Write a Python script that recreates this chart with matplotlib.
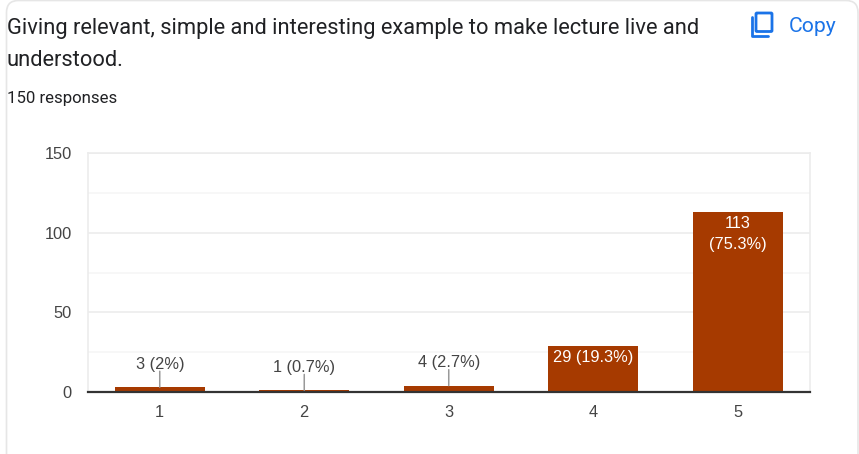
import matplotlib
matplotlib.use('Agg')
import matplotlib.pyplot as plt
from matplotlib.patches import FancyBboxPatch

W, H = 859, 454

categories = ['1', '2', '3', '4', '5']
counts = [3, 1, 4, 29, 113]
percents = ['2%', '0.7%', '2.7%', '19.3%', '75.3%']
y_ticks = [0, 50, 100, 150]
y_minor = [25, 75, 125]

title_lines = ['Giving relevant, simple and interesting example to make lecture live and', 'understood.']
subtitle = '150 responses'

bar_color = '#a63a00'
grid_color = '#ececec'
minor_color = '#f6f6f6'
axis_color = '#333333'
tick_color = '#444444'
label_color = '#444444'
callout_color = '#999999'
blue = '#1a73e8'
card_color = '#e6e6e6'

plt.rcParams['font.family'] = ['Liberation Sans', 'DejaVu Sans']

fig = plt.figure(figsize=(W / 100, H / 100), dpi=100, facecolor='white')


def px_text(x, y, s, **kw):
    fig.text(x / W, 1 - y / H, s, **kw)


# page card behind everything
bg = fig.add_axes([0, 0, 1, 1], zorder=0)
bg.set_xlim(0, W)
bg.set_ylim(H, 0)
bg.axis('off')
bg.add_patch(FancyBboxPatch((6.5, 0.5), 851.5, 500, boxstyle='round,pad=0,rounding_size=12',
                            fc='white', ec=card_color, lw=1.2))

# copy icon
bg.add_patch(FancyBboxPatch((756, 13), 16, 18.5, boxstyle='round,pad=0,rounding_size=1',
                            fc='none', ec=blue, lw=2.0))
bg.plot([751.5, 751.5, 768], [17, 36, 36], color=blue, lw=2.0, solid_capstyle='round', solid_joinstyle='round')

ax = fig.add_axes([87.5 / W, 1 - 392 / H, 722.5 / W, (392 - 153) / H], zorder=1)
ax.patch.set_alpha(0)
x = list(range(len(categories)))
ax.bar(x, counts, width=0.622, color=bar_color, zorder=3)
ax.set_xlim(-0.5, 4.5)
ax.set_ylim(0, 150)

for v in y_ticks[1:]:
    ax.axhline(v, color=grid_color, lw=1.2, zorder=1)
for v in y_minor:
    ax.axhline(v, color=minor_color, lw=1.2, zorder=1)

for s in ['top', 'right', 'left']:
    ax.spines[s].set_color(grid_color)
    ax.spines[s].set_linewidth(1.2)
ax.spines['bottom'].set_color(axis_color)
ax.spines['bottom'].set_linewidth(1.6)
ax.spines['bottom'].set_zorder(5)

ax.set_xticks(x, categories)
ax.set_yticks(y_ticks)
ax.tick_params(length=0, labelsize=11.8, labelcolor=tick_color)
ax.tick_params(axis='x', pad=9.5)
ax.tick_params(axis='y', pad=11.5)

# small bars get a callout above, big ones a label inside
for i, (c, p) in enumerate(zip(counts, percents)):
    if c >= 100:
        ax.annotate(f'{c}\n({p})', (i, c), xytext=(0, -3), textcoords='offset points', ha='center', va='top',
                    color='white', fontsize=11.8, linespacing=1.45, zorder=6)
    elif c >= 20:
        ax.annotate(f'{c} ({p})', (i, c), xytext=(0, -3), textcoords='offset points', ha='center', va='top',
                    color='white', fontsize=11.8, zorder=6)
    else:
        ax.annotate(f'{c} ({p})', (i, c), xytext=(0, 11), textcoords='offset points', ha='center', va='bottom',
                    color=label_color, fontsize=11.8, zorder=6)
        ax.annotate('', (i, c), xytext=(0, 11.5), textcoords='offset points',
                    arrowprops=dict(arrowstyle='-', color=callout_color, lw=1.1, shrinkA=0, shrinkB=0), zorder=4)

px_text(7, 28.5, title_lines[0], family=['Roboto', 'DejaVu Sans'], fontsize=15.75, color='#202124', va='center')
px_text(7, 60, title_lines[1], family=['Roboto', 'DejaVu Sans'], fontsize=15.75, color='#202124', va='center')
px_text(7, 98, subtitle, family=['Roboto', 'DejaVu Sans'], fontsize=12.1, color='#202124', va='center')
px_text(789, 26, 'Copy', family=['Roboto', 'DejaVu Sans'], fontsize=15.2, color=blue, va='center')

fig.savefig('out.png', dpi=100)
plt.close(fig)
